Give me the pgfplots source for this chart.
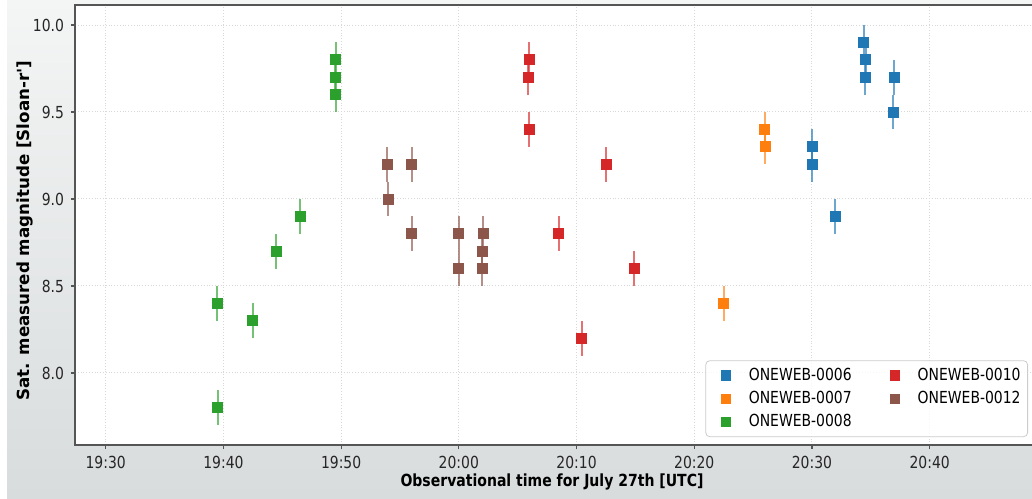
\documentclass[border=0pt]{standalone}
\usepackage{fontspec}
\setmainfont{DejaVu Sans}[FakeStretch=0.84]
\newfontfamily\ylabfont{DejaVu Sans}
\usepackage{pgfplots}
\pgfplotsset{compat=1.18}
\definecolor{c06}{HTML}{1F77B4}
\definecolor{c07}{HTML}{FF7F0E}
\definecolor{c08}{HTML}{2CA02C}
\definecolor{c10}{HTML}{D62728}
\definecolor{c12}{HTML}{8C564B}
\definecolor{bgtop}{HTML}{F4F5F5}
\definecolor{bgbot}{HTML}{D8DCDD}
\definecolor{spine}{HTML}{555555}
\definecolor{gridc}{HTML}{D8D8D8}
\definecolor{tickc}{HTML}{262626}
\begin{document}
\begin{tikzpicture}
\useasboundingbox (0,0) rectangle (516pt,249pt);
\fill[white] (0,0) rectangle (516pt,249pt);
\shade[top color=bgtop, bottom color=bgbot] (3.5pt,0) rectangle (516pt,249pt);
\begin{axis}[
  at={(37.5pt,26.5pt)}, anchor=south west,
  scale only axis, width=480pt, height=220pt,
  xmin=27.39, xmax=108.95, ymin=7.586, ymax=10.115,
  axis background/.style={fill=white},
  axis line style={color=spine, line width=1pt},
  xtick={30,40,50,60,70,80,90,100},
  xticklabels={19:30,19:40,19:50,20:00,20:10,20:20,20:30,20:40},
  ytick={8,8.5,9,9.5,10},
  yticklabel style={/pgf/number format/.cd, fixed, fixed zerofill, precision=1, assume math mode=true},
  tick label style={font=\fontsize{8.3}{9}\selectfont, color=tickc},
  tick align=outside, tick pos=left, major tick length=2pt,
  tick style={color=spine, line width=0.6pt},
  grid=major,
  major grid style={densely dotted, color=gridc, line width=0.5pt},
  xlabel={Observational time for July 27th [UTC]},
  ylabel={\ylabfont Sat. measured magnitude [Sloan-r']},
  label style={font=\fontsize{8.35}{10}\selectfont\bfseries},
  xlabel style={at={(axis description cs:0.5,0)}, anchor=center, yshift=-18.5pt, xshift=-1.5pt},
  ylabel style={at={(axis description cs:-0.0521,0.487)}, anchor=center},
  legend columns=2,
  legend cell align=left,
  legend style={at={(0.9927,0.018)}, anchor=south east, font=\fontsize{8.3}{9}\selectfont,
    draw={rgb,255:red,204;green,204;blue,204}, rounded corners=2pt, fill=white, fill opacity=0.8, text opacity=1,
    inner xsep=1.5pt, inner ysep=1.5pt, row sep=0pt, /tikz/every even column/.append style={column sep=11pt}},
  legend image code/.code={\path[draw=none, fill=none] (-3.5pt,-2pt) rectangle (14.5pt,2pt); \draw[#1, mark size=2.3pt, fill opacity=1, draw opacity=1] plot coordinates {(5pt,0pt)};},
  every axis plot/.append style={only marks, mark=square*, mark size=2.5pt},
  error bars/y dir=both, error bars/y fixed=0.1, error bars/error mark=none,
]
\addplot[color=c06, mark options={fill=c06, draw=c06}, error bars/error bar style={line width=1pt, color=c06, opacity=0.65}]
  coordinates {(90.0,9.3) (90.0,9.2) (92.0,8.9) (94.4,9.9) (94.55,9.8) (94.5,9.7) (97.0,9.7) (96.9,9.5)};
\addlegendentry{ONEWEB-0006}
\addplot[color=c10, mark options={fill=c10, draw=c10}, error bars/error bar style={line width=1pt, color=c10, opacity=0.65}]
  coordinates {(66.0,9.8) (65.9,9.7) (66.0,9.4) (68.5,8.8) (70.45,8.2) (72.5,9.2) (74.9,8.6)};
\addlegendentry{ONEWEB-0010}
\addplot[color=c07, mark options={fill=c07, draw=c07}, error bars/error bar style={line width=1pt, color=c07, opacity=0.65}]
  coordinates {(82.5,8.4) (86.0,9.4) (86.05,9.3)};
\addlegendentry{ONEWEB-0007}
\addplot[color=c12, mark options={fill=c12, draw=c12}, error bars/error bar style={line width=1pt, color=c12, opacity=0.65}]
  coordinates {(53.9,9.2) (54.0,9.0) (56.0,9.2) (56.0,8.8) (60.0,8.8) (60.0,8.6) (62.05,8.8) (62.0,8.7) (62.0,8.6)};
\addlegendentry{ONEWEB-0012}
\addplot[color=c08, mark options={fill=c08, draw=c08}, error bars/error bar style={line width=1pt, color=c08, opacity=0.65}]
  coordinates {(39.46,8.4) (39.5,7.8) (42.5,8.3) (44.5,8.7) (46.5,8.9) (49.55,9.8) (49.5,9.7) (49.55,9.6)};
\addlegendentry{ONEWEB-0008}
\end{axis}
\end{tikzpicture}
\end{document}
